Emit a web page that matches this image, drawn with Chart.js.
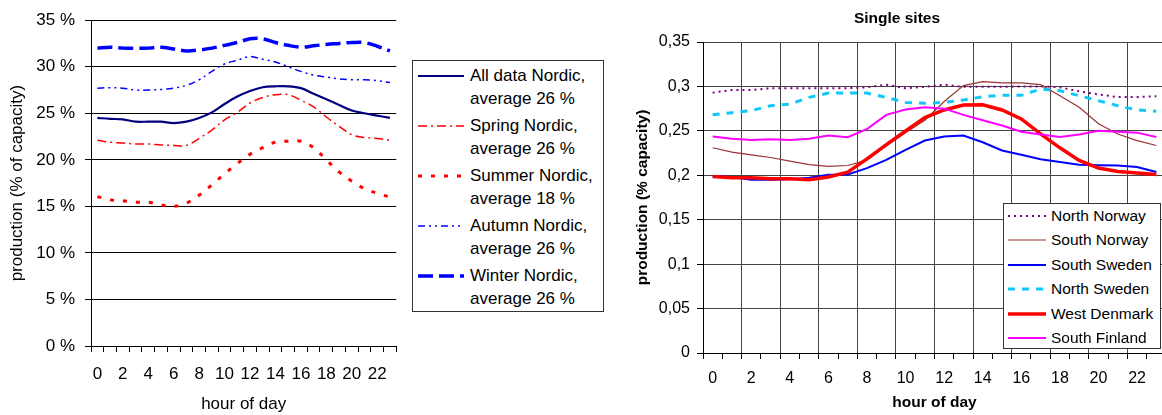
<!DOCTYPE html>
<html>
<head>
<meta charset="utf-8">
<script src="https://cdn.jsdelivr.net/npm/chart.js@4.4.1/dist/chart.umd.min.js"></script>
<style>
  body { margin:0; width:1162px; height:415px; overflow:hidden; background:#fff; position:relative;
         font-family:'Liberation Sans', Arial, sans-serif; color:#000; }
  .box { position:absolute; border:1px solid #333; background:#fff; box-sizing:border-box; }
  .item { position:absolute; white-space:nowrap; }
  .item svg { position:absolute; left:0; top:0; }
</style>
</head>
<body>
<canvas id="left" width="402" height="415" style="position:absolute;left:0;top:0"></canvas>
<div id="leg1" class="box" style="left:412px;top:60px;width:192px;height:252px"></div>
<canvas id="right" width="570" height="415" style="position:absolute;left:600px;top:0"></canvas>
<div id="leg2" class="box" style="left:1003px;top:203px;width:158px;height:146px"></div>
<script>
// hours on x axis
var hours = [0,1,2,3,4,5,6,7,8,9,10,11,12,13,14,15,16,17,18,19,20,21,22,23];

// left chart, production in % of capacity
var allData = [24.5,24.4,24.35,24.1,24.1,24.1,23.95,24.1,24.5,25.1,26.0,26.8,27.4,27.8,27.9,27.9,27.7,27.1,26.5,25.9,25.3,25.0,24.75,24.5];
var spring  = [22.1,21.9,21.8,21.7,21.7,21.6,21.55,21.55,22.3,23.2,24.3,25.1,26.1,26.7,27.0,27.0,26.4,25.7,24.6,23.6,22.7,22.4,22.3,22.1];
var summer  = [16.05,15.7,15.6,15.45,15.45,15.15,15.0,15.35,16.2,17.3,18.5,19.6,20.6,21.3,21.9,22.0,22.0,21.3,20.0,18.7,17.7,16.9,16.4,16.0];
var autumn  = [27.7,27.75,27.7,27.5,27.5,27.55,27.7,28.0,28.6,29.5,30.3,30.7,31.1,30.8,30.5,30.0,29.5,29.1,28.9,28.7,28.6,28.6,28.5,28.3];
var winter  = [32.0,32.1,32.0,32.0,32.0,32.1,31.9,31.7,31.8,32.0,32.3,32.6,33.0,33.0,32.6,32.3,32.1,32.25,32.4,32.5,32.6,32.6,32.2,31.7];
var leftNames = [
  ['All data Nordic,', 'average 26 %'],
  ['Spring Nordic,', 'average 26 %'],
  ['Summer Nordic,', 'average 18 %'],
  ['Autumn Nordic,', 'average 26 %'],
  ['Winter Nordic,', 'average 26 %']
];

// right chart, single sites (fraction of capacity)
var northNorway = [0.293,0.296,0.296,0.298,0.298,0.298,0.298,0.298,0.299,0.302,0.298,0.2995,0.302,0.2995,0.2995,0.2995,0.300,0.300,0.299,0.2945,0.291,0.288,0.288,0.289];
var southNorway = [0.231,0.226,0.223,0.220,0.216,0.212,0.210,0.211,0.217,0.233,0.248,0.262,0.283,0.301,0.3055,0.304,0.304,0.302,0.2895,0.2765,0.258,0.2465,0.239,0.2335];
var southSweden = [0.1987,0.198,0.195,0.195,0.1954,0.1972,0.2006,0.201,0.208,0.2174,0.2286,0.2391,0.2436,0.2447,0.2372,0.2279,0.223,0.218,0.215,0.2118,0.2114,0.211,0.2092,0.2036];
var northSweden = [0.268,0.2705,0.2727,0.2783,0.280,0.2877,0.2925,0.2925,0.2925,0.2877,0.282,0.281,0.282,0.2847,0.2884,0.290,0.290,0.297,0.2951,0.2895,0.2839,0.2783,0.2735,0.272];
var westDenmark = [0.1987,0.1972,0.1972,0.196,0.196,0.195,0.198,0.2036,0.2185,0.2346,0.25,0.265,0.2735,0.2791,0.2794,0.2735,0.2634,0.2466,0.2309,0.2167,0.2081,0.2043,0.2025,0.201];
var southFinland = [0.2436,0.241,0.2398,0.2406,0.2398,0.241,0.2447,0.2428,0.252,0.268,0.274,0.2765,0.275,0.268,0.262,0.256,0.249,0.246,0.243,0.246,0.250,0.249,0.248,0.243];
var rightNames = ['North Norway','South Norway','South Sweden','North Sweden','West Denmark','South Finland'];

var fam = "'Liberation Sans', Arial, sans-serif";

function ds(data, color, width, dash, i) {
  return { data: data, borderColor: color, borderWidth: width, borderDash: dash, order: 10 - i,
           pointRadius: 0, fill: false };
}

var leftSets = [
  ds(allData, '#000080', 2.2, [], 0),
  ds(spring, '#ff0000', 1.5, [9,4,2,4], 1),
  ds(summer, '#ff0000', 3, [4,9], 2),
  ds(autumn, '#0000ff', 1.5, [7,4,2,4,2,4], 3),
  ds(winter, '#0000ff', 3.5, [15,6], 4)
];

new Chart(document.getElementById('left'), {
  type: 'line',
  data: { labels: hours, datasets: leftSets },
  options: {
    responsive: false, animation: false,
    layout: { padding: { left: 0, right: 2, top: 20, bottom: 0 } },
    plugins: { legend: { display: false }, tooltip: { enabled: false } },
    elements: { line: { tension: 0.35 } },
    scales: {
      x: {
        offset: true,
        grid: { offset: true, drawOnChartArea: false, color: '#000', tickLength: 6 },
        border: { color: '#000' },
        ticks: { autoSkip: false, maxRotation: 0, padding: 12, color: '#000', font: { size: 17, family: fam },
                 callback: function(v, i) { return i % 2 ? '' : this.getLabelForValue(v); } },
        title: { display: true, text: 'hour of day', color: '#000', font: { size: 17, family: fam }, padding: { top: 0, bottom: 0 } },
        afterFit: function(s) { s.height = 69; }
      },
      y: {
        min: 0, max: 35,
        grid: { color: '#000', tickLength: 6 },
        border: { color: '#000' },
        ticks: { stepSize: 5, padding: 10, color: '#000', font: { size: 17, family: fam },
                 callback: function(v) { return v + ' %'; } },
        title: { display: true, text: 'production (% of capacity)', color: '#000', font: { size: 17, family: fam }, padding: { top: 7, bottom: 0 } },
        afterFit: function(s) { s.width = 91; }
      }
    }
  }
});

var rightSets = [
  ds(northNorway, '#800080', 2, [2,4], 0),
  ds(southNorway, '#993333', 1.2, [], 1),
  ds(southSweden, '#0000ff', 2, [], 2),
  ds(northSweden, '#10c8f8', 3, [7,7], 3),
  ds(westDenmark, '#ff0000', 3.5, [], 4),
  ds(southFinland, '#ff00ff', 2, [], 5)
];

new Chart(document.getElementById('right'), {
  type: 'line',
  data: { labels: hours, datasets: rightSets },
  options: {
    responsive: false, animation: false,
    layout: { padding: { left: 28, right: 4, top: 0, bottom: 0 } },
    plugins: {
      legend: { display: false }, tooltip: { enabled: false },
      title: { display: true, text: 'Single sites', color: '#000', font: { size: 15.5, weight: 'bold', family: fam },
               padding: { top: 9, bottom: 14.4 } }
    },
    elements: { line: { tension: 0 } },
    scales: {
      x: {
        offset: true,
        grid: { offset: true, tickLength: 6, tickColor: '#000',
                color: function(c) { return (c.index > 0 && c.index % 2 === 0) ? '#444' : 'rgba(0,0,0,0)'; } },
        border: { color: '#000' },
        ticks: { autoSkip: false, maxRotation: 0, padding: 10, color: '#000', font: { size: 16, family: fam },
                 callback: function(v, i) { return i % 2 ? '' : this.getLabelForValue(v); } },
        title: { display: true, text: 'hour of day', color: '#000', font: { size: 15.5, weight: 'bold', family: fam }, padding: { top: 0, bottom: 2.7 } },
        afterFit: function(s) { s.height = 62; }
      },
      y: {
        min: 0, max: 0.35,
        grid: { color: '#444', tickColor: '#000', tickLength: 6 },
        border: { color: '#000' },
        ticks: { stepSize: 0.05, padding: 7, color: '#000', font: { size: 16, family: fam },
                 callback: function(v) { return String(parseFloat(v.toFixed(2))).replace('.', ','); } },
        title: { display: true, text: 'production (% capacity)', color: '#000', font: { size: 15.5, weight: 'bold', family: fam }, padding: { top: 5.7, bottom: 0 } },
        afterFit: function(s) { s.width = 75; }
      }
    }
  }
});

// html legends with line samples taken from the datasets
function sample(set, w) {
  return '<svg width="' + w + '" height="10"><line x1="0" y1="5" x2="' + w + '" y2="5" stroke="' + set.borderColor +
    '" stroke-width="' + set.borderWidth + '" stroke-dasharray="' + (set.borderDash.length ? set.borderDash.join(',') : 'none') + '"/></svg>';
}

var leg1 = document.getElementById('leg1');
leftSets.forEach(function(set, i) {
  var d = document.createElement('div');
  d.className = 'item';
  d.style.left = '5px'; d.style.top = (4 + 50 * i) + 'px';
  d.style.font = '17px ' + fam; d.style.lineHeight = '22.5px';
  d.innerHTML = '<div style="position:absolute;left:0;top:6px">' + sample(set, 46) + '</div>' +
    '<div style="margin-left:52px">' + leftNames[i].join('<br>') + '</div>';
  leg1.appendChild(d);
});

var leg2 = document.getElementById('leg2');
rightSets.forEach(function(set, i) {
  var d = document.createElement('div');
  d.className = 'item';
  d.style.left = '4px'; d.style.top = (0 + 24.4 * i) + 'px';
  d.style.font = '15.5px ' + fam; d.style.lineHeight = '24px';
  d.innerHTML = '<div style="position:absolute;left:0;top:7px">' + sample(set, 38) + '</div>' +
    '<div style="margin-left:43px">' + rightNames[i] + '</div>';
  leg2.appendChild(d);
});
</script>
</body>
</html>
